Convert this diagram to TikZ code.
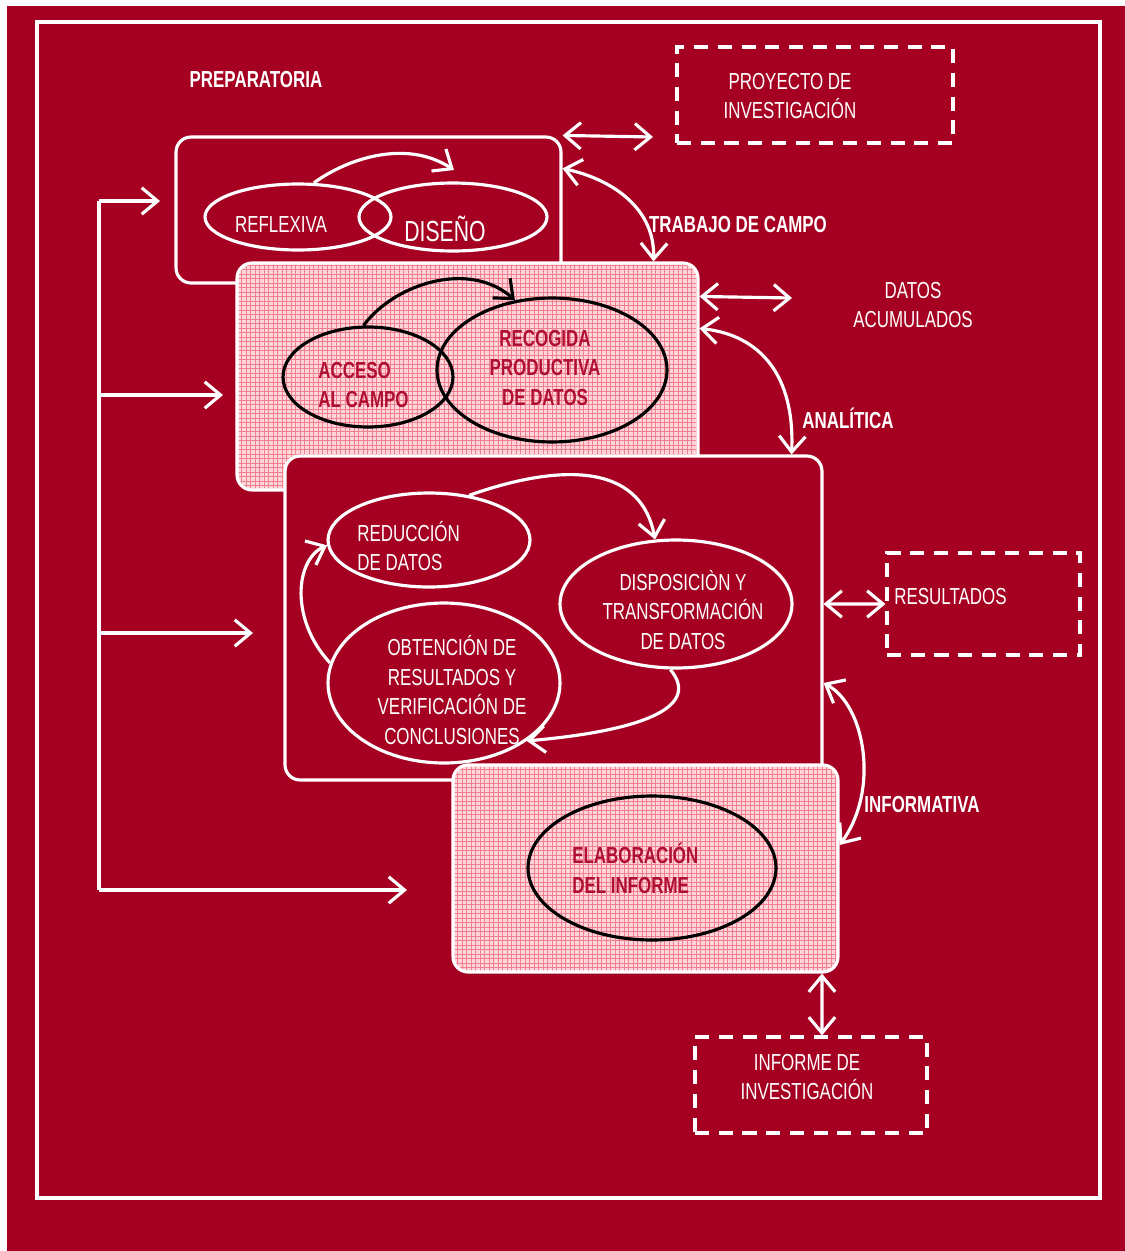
\documentclass[tikz,border=0pt]{standalone}
\usepackage{fontspec}
\setmainfont{Liberation Sans}[FakeStretch=0.73]
\usetikzlibrary{arrows.meta,shapes.geometric}
\definecolor{bgred}{RGB}{165,0,33}
\definecolor{pinkbase}{RGB}{255,212,218}
\definecolor{pinkgrid}{RGB}{240,128,142}
\definecolor{darktxt}{RGB}{175,15,50}
\begin{document}
\begin{tikzpicture}[x=0.02cm,y=-0.02cm,
  font=\fontsize{13.2}{17}\selectfont,
  wl/.style={draw=white, line width=1.8pt},
  arr/.style={wl, -{Straight Barb[length=9pt,width=15pt]}},
  barr/.style={draw=black, line width=1.8pt, -{Straight Barb[length=9pt,width=15pt]}},
  dbl/.style={wl, {Straight Barb[length=9pt,width=15pt]}-{Straight Barb[length=9pt,width=15pt]}},
  redbox/.style={rectangle, rounded corners=0.3cm, draw=white, line width=1.8pt, fill=bgred, inner sep=0pt},
  pinkbox/.style={redbox, fill=pinkbase, path picture={
      \foreach \i in {0,...,110} {
        \draw[pinkgrid, line width=0.45pt] ([xshift=\i*0.09cm]path picture bounding box.south west) -- ([xshift=\i*0.09cm]path picture bounding box.north west);
        \draw[pinkgrid, line width=0.45pt] ([yshift=\i*0.09cm]path picture bounding box.south west) -- ([yshift=\i*0.09cm]path picture bounding box.south east);
      }}},
  dashbox/.style={rectangle, draw=white, line width=1.8pt, dash pattern=on 8pt off 5.5pt, inner sep=0pt},
  wellipse/.style={ellipse, draw=white, line width=1.8pt, inner sep=0pt},
  bellipse/.style={ellipse, draw=black, line width=1.8pt, inner sep=0pt},
  wtxt/.style={text=white, align=center, inner sep=0pt},
  btxt/.style={text=white, align=center, inner sep=0pt, font=\fontsize{13.2}{17}\selectfont\bfseries},
  dtxt/.style={text=darktxt, align=center, inner sep=0pt, font=\fontsize{13.2}{17}\selectfont\bfseries}
]
\useasboundingbox (0,0) rectangle (1125,1251);
\fill[white] (0,0) rectangle (1125,1251);
\fill[bgred] (7,6) rectangle (1125,1251);
\draw[white, line width=1.8pt] (37,22) rectangle (1100,1198);

% labels
\node[btxt] (tprep) at (256,80) {PREPARATORIA};
\node[btxt] (ttrab) at (738,225) {TRABAJO DE CAMPO};
\node[wtxt] (tdatos) at (913,305) {DATOS\\ACUMULADOS};
\node[btxt] (tanal) at (848,418) {ANALÍTICA};
\node[btxt] (tinfo) at (922,805) {INFORMATIVA};

% dashed boxes
\node[dashbox, minimum width=5.52cm, minimum height=1.92cm] (proy) at (815,95) {};
\node[wtxt] (tproy) at (790,96) {PROYECTO DE\\INVESTIGACIÓN};
\node[dashbox, minimum width=3.86cm, minimum height=2.04cm] (resul) at (983.5,604) {};
\node[wtxt, anchor=west] (tres) at (894,597) {RESULTADOS};
\node[dashbox, minimum width=4.64cm, minimum height=1.92cm] (infor) at (811,1085) {};
\node[wtxt] (tinfor) at (807,1077) {INFORME DE\\INVESTIGACIÓN};

% box 1
\node[redbox, minimum width=7.7cm, minimum height=2.92cm] (box1) at (368.5,210) {};
\node[wellipse, minimum width=3.72cm, minimum height=1.32cm] (refl) at (298,217) {};
\node[wellipse, minimum width=3.76cm, minimum height=1.36cm] (dise) at (453,217) {};
\node[wtxt] (trefl) at (281,225) {REFLEXIVA};
\node[wtxt, font=\fontsize{16.5}{20}\selectfont] (tdise) at (445,229) {DISEÑO};
\coordinate (d1) at (454,170);
\draw[arr] (refl.65) .. controls (345,160) and (405,138) .. (d1);

% box 2
\node[pinkbox, minimum width=9.22cm, minimum height=4.54cm] (box2) at (467.5,376.5) {};
\node[bellipse, minimum width=3.4cm, minimum height=2.0cm] (acc) at (368,377) {};
\node[bellipse, minimum width=4.6cm, minimum height=2.88cm] (rec) at (552,370) {};
\node[dtxt, align=left, anchor=west] (tacc) at (318,385) {ACCESO\\AL CAMPO};
\node[dtxt] (trec) at (545,368) {RECOGIDA\\PRODUCTIVA\\DE DATOS};
\draw[barr] (acc.95) .. controls (395,283) and (470,260) .. (rec.118);

% box 3
\node[redbox, minimum width=10.74cm, minimum height=6.48cm] (box3) at (553.5,618) {};
\node[wellipse, minimum width=4.04cm, minimum height=1.88cm] (red) at (429,540) {};
\node[wellipse, minimum width=4.64cm, minimum height=2.56cm] (disp) at (676,604) {};
\node[wellipse, minimum width=4.64cm, minimum height=3.2cm] (obt) at (444,683) {};
\node[wtxt, align=left, anchor=west] (tred) at (357,546) {REDUCCIÓN\\DE DATOS};
\node[wtxt] (tdisp) at (683,610) {DISPOSICIÒN Y\\TRANSFORMACIÓN\\DE DATOS};
\node[wtxt] (tobt) at (452,690) {OBTENCIÓN DE\\RESULTADOS Y\\VERIFICACIÓN DE\\CONCLUSIONES};
\draw[arr] (red.48) .. controls (555,465) and (640,460) .. (disp.108);
\draw[arr] (disp.-95) .. controls (700,705) and (650,730) .. (obt.-35);
\draw[arr] (obt.170) .. controls (290,620) and (295,560) .. (red.183);

% box 4
\node[pinkbox, minimum width=7.7cm, minimum height=4.14cm] (box4) at (645.5,868.5) {};
\node[bellipse, minimum width=4.96cm, minimum height=2.88cm] (ela) at (652,868) {};
\node[dtxt, align=left, anchor=west] (tela) at (572,868) {ELABORACIÓN\\DEL INFORME};

% outer connectors
\coordinate (pA) at (653,137);
\draw[dbl] (box1.north east) -- (pA);
\draw[dbl] ([yshift=-0.66cm]box1.north east) .. controls (615,180) and (655,210) .. ([xshift=-0.92cm]box2.north east);
\coordinate (pB) at (792,298);
\draw[dbl] ([yshift=-0.7cm]box2.north east) -- (pB);
\draw[dbl] ([yshift=-1.34cm]box2.north east) .. controls (760,335) and (795,375) .. ([xshift=-0.64cm]box3.north east);
\draw[dbl] ([yshift=0.28cm]box3.east) -- (resul.west);
\draw[dbl] ([yshift=-1.3cm]box3.east) .. controls (865,705) and (880,790) .. ([yshift=0.47cm]box4.east);
\draw[dbl] ([xshift=3.53cm]box4.south) -- ([xshift=0.22cm]infor.north);

% left feed
\coordinate (f1) at (99,201);
\coordinate (f2) at (99,395);
\coordinate (f3) at (99,633);
\coordinate (f4) at (99,890);
\coordinate (e1) at (160,201);
\coordinate (e2) at (223,395);
\coordinate (e3) at (253,633);
\coordinate (e4) at (407,890);
\draw[wl] (f1) -- (f4);
\draw[arr] (f1) -- (e1);
\draw[arr] (f2) -- (e2);
\draw[arr] (f3) -- (e3);
\draw[arr] (f4) -- (e4);
\end{tikzpicture}
\end{document}
